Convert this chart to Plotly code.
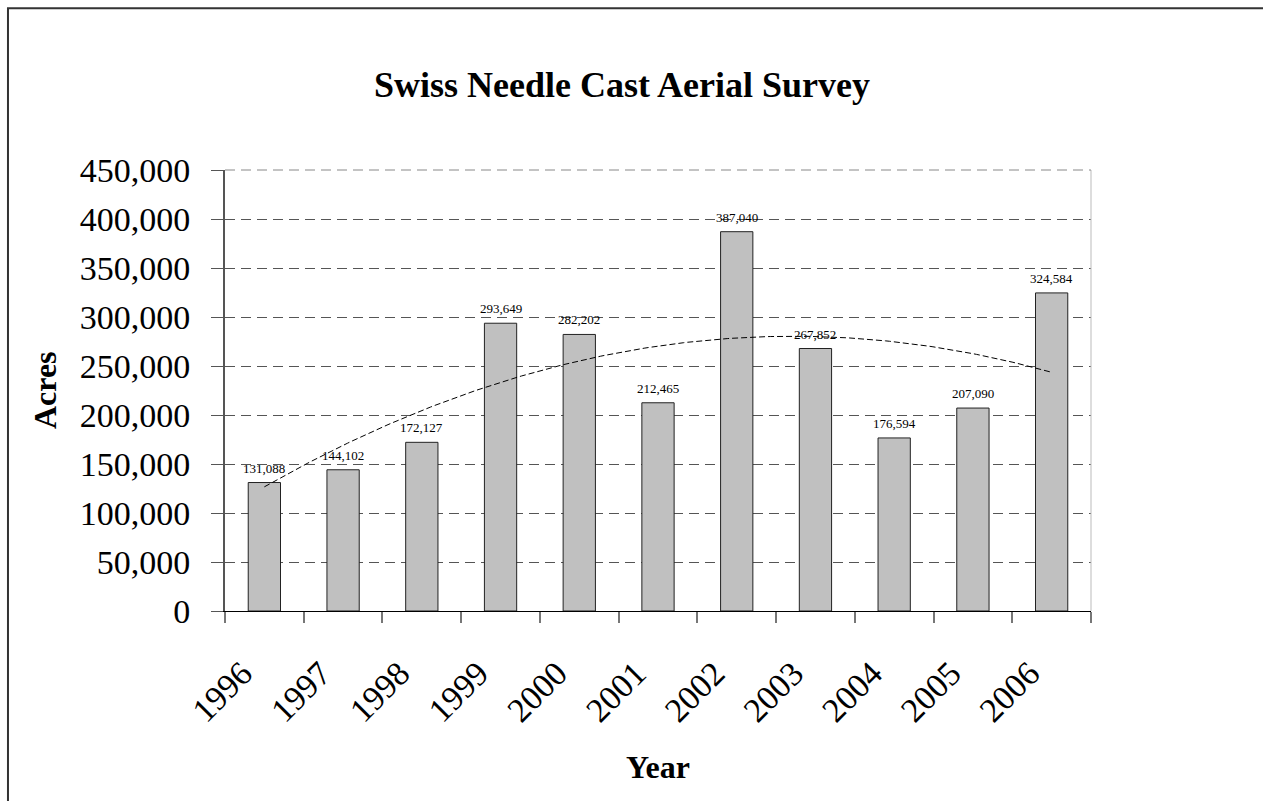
import numpy as np
import plotly.graph_objects as go

years = ["1996", "1997", "1998", "1999", "2000", "2001", "2002", "2003", "2004", "2005", "2006"]
acres = [131088, 144102, 172127, 293649, 282202, 212465, 387040, 267852, 176594, 207090, 324584]
y_ticks = [0, 50000, 100000, 150000, 200000, 250000, 300000, 350000, 400000, 450000]

# Excel-style polynomial (order 2) trendline fitted to the bar data
xi = np.arange(1, len(acres) + 1)
coef = np.polyfit(xi, acres, 2)
xt = np.linspace(1, len(acres), 200)
yt = np.polyval(coef, xt)

FONT = "Liberation Serif, Times New Roman, serif"

fig = go.Figure()
fig.add_trace(go.Bar(
    x=years, y=acres,
    marker=dict(color="#C0C0C0", line=dict(color="#222222", width=1)),
    showlegend=False, hoverinfo="skip",
))
fig.add_trace(go.Scatter(
    x=xt, y=yt, xaxis="x2", yaxis="y", mode="lines",
    line=dict(color="#000000", width=1, dash="6px,3px"),
    showlegend=False, hoverinfo="skip",
))

label_annots = [
    dict(text=f"{v:,}", x=i, y=v, xref="x", yref="y", xanchor="center", yanchor="bottom",
         yshift=5, showarrow=False, font=dict(family=FONT, size=13, color="#000000"))
    for i, v in enumerate(acres)
]

fig.update_layout(
    width=1263, height=801,
    margin=dict(l=225, r=172, t=170, b=190),
    paper_bgcolor="white", plot_bgcolor="white",
    bargap=0.59,
    font=dict(family=FONT, color="#000000"),
    xaxis=dict(
        type="category", range=[-0.5, len(years) - 0.5],
        showgrid=False, showline=True, linecolor="#000000", linewidth=1,
        ticks="outside", tickson="boundaries", ticklen=11, tickcolor="#777777", tickwidth=2,
        tickangle=-45, tickfont=dict(family=FONT, size=34, color="#000000"),
        ticklabelstandoff=28, ticklabelshift=-22,
        zeroline=False,
    ),
    xaxis2=dict(overlaying="x", range=[0.5, len(acres) + 0.5], visible=False),
    yaxis=dict(
        range=[0, 450000], tickvals=y_ticks, tickformat=",",
        showgrid=True, gridcolor="#555555", griddash="10px,6px", gridwidth=1,
        showline=True, linecolor="#555555", linewidth=2,
        ticks="outside", ticklen=12, tickcolor="#555555",
        tickfont=dict(family=FONT, size=34, color="#000000"),
        ticklabelstandoff=14, zeroline=False,
    ),
    shapes=[
        dict(type="rect", xref="paper", yref="paper", x0=-0.2506, y0=-0.6, x1=1.5, y1=1.367,
             line=dict(color="#333333", width=2), fillcolor="rgba(0,0,0,0)", layer="below"),
        dict(type="line", xref="paper", yref="paper", x0=1, y0=0, x1=1, y1=1,
             line=dict(color="#BBBBBB", width=1)),
        dict(type="line", xref="paper", yref="paper", x0=0, y0=1, x1=1, y1=1,
             line=dict(color="#888888", width=1, dash="10px,6px")),
    ],
    annotations=label_annots + [
        dict(text="<b>Swiss Needle Cast Aerial Survey</b>", xref="paper", yref="paper",
             x=0.458, y=(611 - 85) / 441, xanchor="center", yanchor="middle", showarrow=False,
             font=dict(family=FONT, size=36, color="#000000")),
        dict(text="<b>Acres</b>", xref="paper", yref="paper",
             x=(45 - 225) / 866, y=0.501, xanchor="center", yanchor="middle", textangle=-90,
             showarrow=False, font=dict(family=FONT, size=32, color="#000000")),
        dict(text="<b>Year</b>", xref="paper", yref="paper",
             x=(658 - 225) / 866, y=(611 - 767) / 441, xanchor="center", yanchor="middle",
             showarrow=False, font=dict(family=FONT, size=32, color="#000000")),
    ],
)

fig.write_html("out.html")
